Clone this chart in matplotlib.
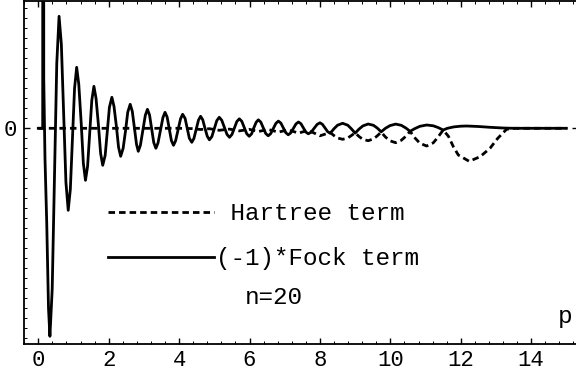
import matplotlib
matplotlib.use("Agg")
import matplotlib.pyplot as plt
from matplotlib.ticker import MultipleLocator, FixedLocator

# ---------------- data ----------------
fock_x = [0.00, 0.125, 0.14, 0.155, 0.19, 0.24, 0.29, 0.33, 0.395, 0.46, 0.525,
          0.59, 0.655, 0.72, 0.785, 0.85, 0.91, 0.97, 1.03, 1.09, 1.15, 1.22, 1.28,
          1.34, 1.40, 1.46, 1.52, 1.58, 1.64, 1.71, 1.77, 1.83, 1.90, 1.96, 2.02,
          2.09, 2.15, 2.22, 2.28, 2.34, 2.41, 2.48, 2.54, 2.61, 2.67, 2.73, 2.79,
          2.84, 2.90, 2.97, 3.04, 3.10, 3.16, 3.22, 3.28, 3.34, 3.40, 3.47, 3.54,
          3.60, 3.66, 3.72, 3.78, 3.84, 3.90, 3.97, 4.04, 4.10, 4.17, 4.23, 4.29,
          4.36, 4.42, 4.485, 4.55, 4.61, 4.67, 4.735, 4.80, 4.86, 4.93, 5.00, 5.07,
          5.14, 5.21, 5.285, 5.36, 5.43, 5.50, 5.57, 5.64, 5.71, 5.78, 5.85, 5.92,
          5.99, 6.06, 6.12, 6.19, 6.25, 6.32, 6.39, 6.46, 6.53, 6.60, 6.675, 6.75,
          6.82, 6.89, 6.96, 7.03, 7.10, 7.17, 7.245, 7.32, 7.39, 7.46, 7.53, 7.60,
          7.67, 7.75, 7.835, 7.92, 8.00, 8.07, 8.145, 8.22, 8.29,
          8.40, 8.50, 8.645, 8.79, 8.89, 9.00,
          9.11, 9.22, 9.37, 9.52, 9.63, 9.74,
          9.86, 9.99, 10.15, 10.31, 10.44, 10.56,
          10.70, 10.84, 11.03, 11.22, 11.36, 11.50,
          11.62, 11.80, 12.00, 12.17, 12.50, 12.83, 13.20, 13.50, 15.00]
fock_y = [0.00, 0.00, 20.0, 0.50, -0.30, -0.95, -1.80, -2.08, -1.61, -0.48, 0.65,
          1.12, 0.84, 0.15, -0.54, -0.82, -0.61, -0.105, 0.40, 0.61, 0.44, 0.045, -0.35,
          -0.52, -0.38, -0.05, 0.28, 0.42, 0.30, 0.025, -0.25, -0.37, -0.27, -0.03, 0.21,
          0.31, 0.22, 0.015, -0.19, -0.28, -0.20, -0.02, 0.16, 0.24, 0.17, 0.005, -0.16,
          -0.23, -0.17, -0.02, 0.13, 0.19, 0.133, -0.005, -0.143, -0.20, -0.147, -0.02, 0.107,
          0.16, 0.112, -0.005, -0.122, -0.17, -0.125, -0.015, 0.095, 0.14, 0.099, 0.00, -0.099,
          -0.14, -0.102, -0.01, 0.082, 0.12, 0.086, 0.00, -0.08, -0.115, -0.083, -0.003, 0.077,
          0.11, 0.081, 0.01, -0.061, -0.09, -0.062, 0.003, 0.068, 0.095, 0.07, 0.008, -0.054,
          -0.08, -0.055, 0.003, 0.061, 0.085, 0.062, 0.005, -0.052, -0.075, -0.054, -0.002, 0.05,
          0.072, 0.052, 0.004, -0.044, -0.065, -0.046, -0.001, 0.044, 0.063, 0.046, 0.004, -0.038,
          -0.055, -0.039, 0.00, 0.039, 0.055, 0.04, 0.003, -0.034, -0.05,
          -0.004, 0.031, 0.05, 0.031, -0.004, -0.048,
          -0.008, 0.024, 0.043, 0.030, 0.002, -0.035,
          0.000, 0.027, 0.042, 0.030, 0.003, -0.030,
          -0.002, 0.020, 0.033, 0.025, 0.007, -0.017,
          0.000, 0.014, 0.021, 0.023, 0.018, 0.010, 0.003, 0.00, 0.00]

hartree_x = [0.00, 4.00, 4.36, 4.61, 4.86, 5.14, 5.43, 5.71, 5.99, 6.25, 6.53, 6.82,
             7.10, 7.39, 7.67, 8.00, 8.29,
             8.40, 8.50, 8.645, 8.79, 8.89, 9.00,
             9.11, 9.22, 9.37, 9.52, 9.63, 9.74,
             9.86, 9.99, 10.15, 10.31, 10.44, 10.56,
             10.70, 10.84, 11.03, 11.22, 11.36, 11.50,
             11.65, 11.79, 11.93, 12.24, 12.55, 12.83, 13.05, 13.30, 13.50, 15.00]
hartree_y = [0.00, 0.00, -0.003, -0.012, -0.004, -0.02, -0.008, -0.026, -0.01, -0.032, -0.012, -0.038,
             -0.015, -0.048, -0.02, -0.075, -0.042,
             -0.073, -0.097, -0.11, -0.097, -0.073, -0.045,
             -0.082, -0.111, -0.124, -0.106, -0.075, -0.038,
             -0.087, -0.125, -0.144, -0.120, -0.080, -0.030,
             -0.097, -0.150, -0.177, -0.145, -0.085, -0.017,
             -0.08, -0.184, -0.267, -0.33, -0.284, -0.20, -0.10, -0.01, 0.00, 0.00]

xtick_values = [0, 2, 4, 6, 8, 10, 12, 14]
xtick_labels = ["0", "2", "4", "6", "8", "10", "12", "14"]
ytick_values = [0]
ytick_labels = ["0"]
series_labels = [" Hartree term", "(-1)*Fock term"]
note_text = "n=20"
axis_text = "p"

# ---------------- figure ----------------
plt.rcParams['font.family'] = ['Liberation Mono', 'DejaVu Sans Mono']
plt.rcParams['lines.scale_dashes'] = False

fig = plt.figure(figsize=(5.76, 3.76), dpi=100)
ax = fig.add_axes([24 / 576, 32 / 376, 554 / 576, 343.5 / 376])

ax.plot(hartree_x, hartree_y, color='black', lw=2.0, dashes=(4.7, 2.9),
        dash_capstyle='butt', label=series_labels[0])
ax.plot(fock_x, fock_y, color='black', lw=2.0, solid_joinstyle='round',
        label=series_labels[1])

ax.set_xlim(-0.406, 15.33)
ax.set_ylim(-2.157, 1.278)

ax.xaxis.set_major_locator(FixedLocator(xtick_values))
ax.set_xticklabels(xtick_labels)
ax.xaxis.set_minor_locator(MultipleLocator(0.4))
ax.yaxis.set_major_locator(FixedLocator(ytick_values))
ax.set_yticklabels(ytick_labels)
ax.yaxis.set_minor_locator(MultipleLocator(0.1))

ax.tick_params(which='major', direction='in', length=4.5, width=1.0,
               top=True, right=True, labelsize=16, pad=4)
ax.tick_params(which='minor', direction='in', length=2.2, width=0.7,
               top=True, right=False)
ax.tick_params(axis='y', which='major', pad=5)

for side in ['left', 'bottom', 'top', 'right']:
    ax.spines[side].set_linewidth(1.3)

leg = ax.legend(loc='upper left', bbox_to_anchor=(84 / 554, 1 - 202 / 343.5),
                frameon=False, fontsize=17.5, handlelength=4.35, handletextpad=0.1,
                borderpad=0, borderaxespad=0, labelspacing=0.9)

ax.text(6.70, -1.687, note_text, fontsize=17.5, ha='center', va='center')
ax.text(14.96, -1.887, axis_text, fontsize=17.5, ha='center', va='center')

fig.savefig("out.png", dpi=100)
